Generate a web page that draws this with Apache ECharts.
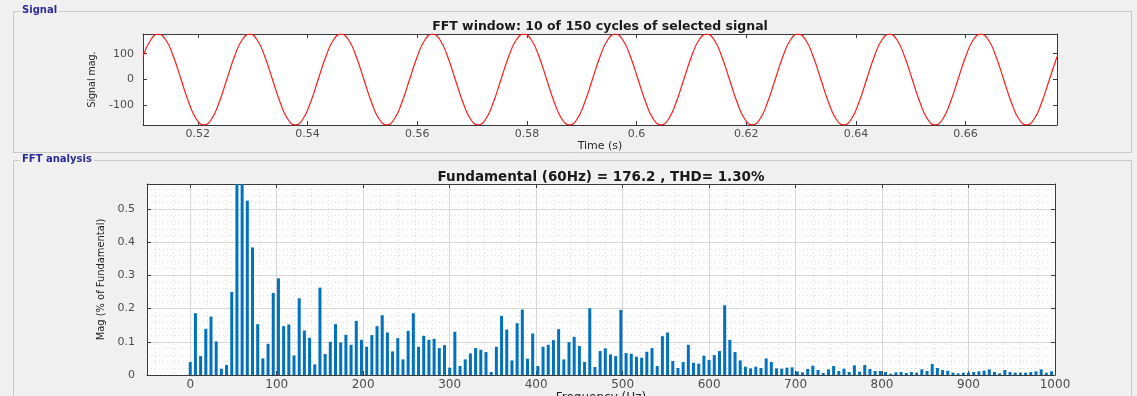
<!DOCTYPE html>
<html>
<head>
<meta charset="utf-8">
<title>FFT analysis</title>
<script src="https://cdn.jsdelivr.net/npm/echarts@6/dist/echarts.min.js"></script>
<style>
  html, body { margin: 0; padding: 0; background: #f0f0f0; }
  #main { width: 1137px; height: 396px; }
</style>
</head>
<body>
<div id="main"></div>
<script>
const signalStart = 0.51;
const signalStep = 1 / 720;
const signalMag = [
  88, 153, 176, 153, 88, 0, -88, -153, -176, -153, -88, 0,
  88, 153, 176, 153, 88, 0, -88, -153, -176, -153, -88, 0,
  88, 153, 176, 153, 88, 0, -88, -153, -176, -153, -88, 0,
  88, 153, 176, 153, 88, 0, -88, -153, -176, -153, -88, 0,
  88, 153, 176, 153, 88, 0, -88, -153, -176, -153, -88, 0,
  88, 153, 176, 153, 88, 0, -88, -153, -176, -153, -88, 0,
  88, 153, 176, 153, 88, 0, -88, -153, -176, -153, -88, 0,
  88, 153, 176, 153, 88, 0, -88, -153, -176, -153, -88, 0,
  88, 153, 176, 153, 88, 0, -88, -153, -176, -153, -88, 0,
  88, 153, 176, 153, 88, 0, -88, -153, -176, -153, -88, 0,
  88
];

// FFT bins, 6 Hz apart (0 .. 996 Hz), magnitude in % of fundamental
const binHz = 6;
const fftMag = [
  0.039, 0.186, 0.057, 0.139, 0.176, 0.101, 0.019, 0.030, 0.250, 0.780,
  100,   0.525, 0.384, 0.153, 0.050, 0.094, 0.247, 0.291, 0.147, 0.152,
  0.059, 0.231, 0.134, 0.112, 0.032, 0.263, 0.063, 0.100, 0.153, 0.098,
  0.121, 0.091, 0.163, 0.106, 0.085, 0.120, 0.147, 0.180, 0.128, 0.071,
  0.111, 0.047, 0.133, 0.186, 0.085, 0.118, 0.106, 0.109, 0.081, 0.090,
  0.022, 0.130, 0.027, 0.047, 0.065, 0.081, 0.076, 0.069, 0.009, 0.085,
  0.178, 0.137, 0.044, 0.156, 0.197, 0.049, 0.125, 0.027, 0.085, 0.091,
  0.105, 0.138, 0.047, 0.099, 0.115, 0.087, 0.039, 0.201, 0.024, 0.072,
  0.080, 0.062, 0.057, 0.196, 0.066, 0.064, 0.055, 0.052, 0.070, 0.081,
  0.027, 0.117, 0.128, 0.042, 0.021, 0.039, 0.091, 0.037, 0.034, 0.058,
  0.045, 0.060, 0.072, 0.210, 0.106, 0.069, 0.044, 0.025, 0.020, 0.025,
  0.021, 0.050, 0.039, 0.020, 0.019, 0.022, 0.023, 0.011, 0.008, 0.018,
  0.028, 0.015, 0.006, 0.017, 0.027, 0.012, 0.019, 0.009, 0.029, 0.010,
  0.030, 0.018, 0.012, 0.012, 0.009, 0.004, 0.008, 0.009, 0.006, 0.009,
  0.007, 0.017, 0.012, 0.033, 0.021, 0.015, 0.013, 0.007, 0.005, 0.007,
  0.007, 0.009, 0.011, 0.013, 0.017, 0.009, 0.005, 0.015, 0.009, 0.007,
  0.007, 0.007, 0.009, 0.011, 0.017, 0.007, 0.011
];

const signalTitle = 'FFT window: 10 of 150 cycles of selected signal';
const fftTitle = 'Fundamental (60Hz) = 176.2 , THD= 1.30%';

const axisColor = '#3a3a3a';
const labelColor = '#4d4d4d';
const narrowFont = "'Liberation Sans Narrow', 'DejaVu Sans Condensed', sans-serif";
const font = "'DejaVu Sans', sans-serif";

function frameAxis(gridIndex, position, min, max, splitNumber) {
  return {
    gridIndex: gridIndex,
    type: 'value',
    position: position,
    min: min,
    max: max,
    splitNumber: splitNumber,
    axisLine: { show: true, onZero: false, lineStyle: { color: axisColor, width: 1 } },
    axisTick: { show: true, inside: true, length: 4, lineStyle: { color: axisColor } },
    axisLabel: { show: false },
    splitLine: { show: false }
  };
}

const chart = echarts.init(document.getElementById('main'));

chart.setOption({
  animation: false,
  backgroundColor: '#f0f0f0',
  textStyle: { fontFamily: font },
  graphic: [
    { type: 'rect', shape: { x: 13.5, y: 11.5, width: 1118, height: 141 },
      style: { fill: 'none', stroke: '#c9c9c9', lineWidth: 1 }, z: -10 },
    { type: 'rect', shape: { x: 13.5, y: 160.5, width: 1118, height: 300 },
      style: { fill: 'none', stroke: '#c9c9c9', lineWidth: 1 }, z: -10 },
    { type: 'text', left: 20, top: 5,
      style: { text: 'Signal', fill: '#2b2b9a', font: 'bold 10px ' + font,
               backgroundColor: '#f0f0f0', padding: [0, 2] } },
    { type: 'text', left: 20, top: 154,
      style: { text: 'FFT analysis', fill: '#2b2b9a', font: 'bold 10px ' + font,
               backgroundColor: '#f0f0f0', padding: [0, 2] } }
  ],
  title: [
    { text: signalTitle, left: 600, top: 20, textAlign: 'center', padding: 0,
      textStyle: { fontFamily: font, fontSize: 12.5, fontWeight: 'bold', color: '#1a1a1a' } },
    { text: fftTitle, left: 601, top: 170, textAlign: 'center', padding: 0,
      textStyle: { fontFamily: font, fontSize: 13.5, fontWeight: 'bold', color: '#1a1a1a' } }
  ],
  grid: [
    { left: 143, top: 34, width: 914, height: 91, show: true, backgroundColor: '#ffffff',
      borderWidth: 0, outerBoundsMode: 'none', containLabel: false },
    { left: 147, top: 184, width: 908, height: 191, show: true, backgroundColor: '#ffffff',
      borderWidth: 0, outerBoundsMode: 'none', containLabel: false }
  ],
  xAxis: [
    {
      gridIndex: 0, type: 'value', min: 0.51, max: 0.676667, splitNumber: 8,
      name: 'Time (s)', nameLocation: 'middle', nameGap: 12,
      nameTextStyle: { fontFamily: font, fontSize: 11, color: '#262626' },
      axisLine: { show: true, onZero: false, lineStyle: { color: axisColor } },
      axisTick: { inside: true, length: 4, lineStyle: { color: axisColor } },
      axisLabel: { margin: 4, fontSize: 11, color: labelColor, showMinLabel: false, showMaxLabel: false },
      splitLine: { show: false }
    },
    frameAxis(0, 'top', 0.51, 0.676667, 8),
    {
      gridIndex: 1, type: 'value', min: -50, max: 1000, splitNumber: 10,
      name: 'Frequency (Hz)', nameLocation: 'middle', nameGap: 17,
      nameTextStyle: { fontFamily: font, fontSize: 12, color: '#262626' },
      axisLine: { show: true, onZero: false, lineStyle: { color: axisColor } },
      axisTick: { inside: true, length: 4, lineStyle: { color: axisColor } },
      axisLabel: { margin: 4, fontSize: 12, color: labelColor, showMinLabel: false, showMaxLabel: true,
                   formatter: (v) => String(v) },
      splitLine: { show: true, lineStyle: { color: '#d6d6d6', width: 1 } },
      minorTick: { show: false, splitNumber: 5 },
      minorSplitLine: { show: true, lineStyle: { color: '#dedede', width: 1, type: [1, 3] } }
    },
    frameAxis(1, 'top', -50, 1000, 10)
  ],
  yAxis: [
    {
      gridIndex: 0, type: 'value', min: -176.2, max: 176.2, splitNumber: 4,
      name: 'Signal mag.', nameLocation: 'middle', nameGap: 42,
      nameTextStyle: { fontFamily: narrowFont, fontSize: 10.5, color: '#262626' },
      axisLine: { show: true, onZero: false, lineStyle: { color: axisColor } },
      axisTick: { inside: true, length: 4, lineStyle: { color: axisColor } },
      axisLabel: { margin: 9, fontSize: 11, color: labelColor, showMinLabel: false, showMaxLabel: false },
      splitLine: { show: false }
    },
    frameAxis(0, 'right', -176.2, 176.2, 4),
    {
      gridIndex: 1, type: 'value', min: 0, max: 0.575, splitNumber: 6,
      name: 'Mag (% of Fundamental)', nameLocation: 'middle', nameGap: 39,
      nameTextStyle: { fontFamily: narrowFont, fontSize: 11, color: '#262626' },
      axisLine: { show: true, onZero: false, lineStyle: { color: axisColor } },
      axisTick: { inside: true, length: 4, lineStyle: { color: axisColor } },
      axisLabel: { margin: 12, fontSize: 11, color: labelColor, showMinLabel: true, showMaxLabel: false },
      splitLine: { show: true, lineStyle: { color: '#d6d6d6', width: 1 } },
      minorTick: { show: false, splitNumber: 5 },
      minorSplitLine: { show: true, lineStyle: { color: '#dedede', width: 1, type: [1, 3] } }
    },
    frameAxis(1, 'right', 0, 0.575, 6)
  ],
  series: [
    {
      type: 'line', xAxisIndex: 0, yAxisIndex: 0,
      data: signalMag.map((v, i) => [signalStart + i * signalStep, v]),
      smooth: true, showSymbol: false, clip: true,
      lineStyle: { color: '#ff1a1a', width: 1.2 }
    },
    {
      type: 'bar', xAxisIndex: 2, yAxisIndex: 2,
      data: fftMag.map((m, i) => [i * binHz, m]),
      barWidth: 3, clip: true,
      itemStyle: { color: '#0072BD' }
    }
  ]
});
</script>
</body>
</html>
